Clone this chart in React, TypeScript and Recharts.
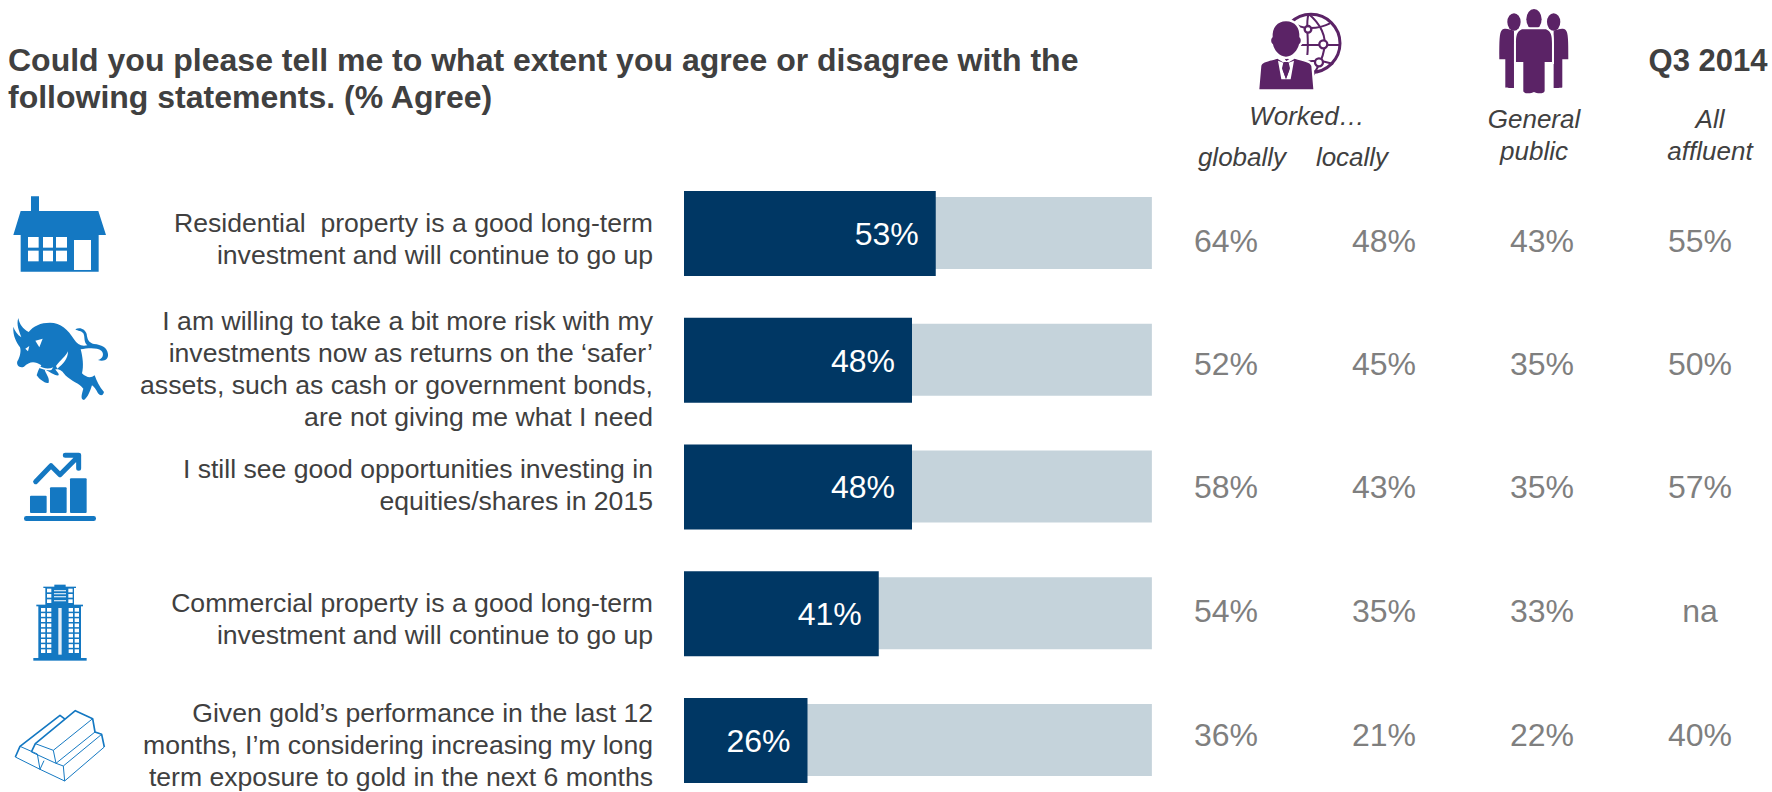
import { BarChart, Bar, XAxis, YAxis, LabelList } from "recharts";

const FONT = "'Liberation Sans', Arial, sans-serif";
const NAVY = "#003764";
const TRACK = "#c5d3db";
const TEXT = "#404040";
const GREY = "#7f7f7f";
const BLUE = "#1478c2";
const PURPLE = "#5b2366";

const statements = [
  ["Residential  property is a good long-term", "investment and will continue to go up"],
  [
    "I am willing to take a bit more risk with my",
    "investments now as returns on the ‘safer’",
    "assets, such as cash or government bonds,",
    "are not giving me what I need",
  ],
  ["I still see good opportunities investing in", "equities/shares in 2015"],
  ["Commercial property is a good long-term", "investment and will continue to go up"],
  [
    "Given gold’s performance in the last 12",
    "months, I’m considering increasing my long",
    "term exposure to gold in the next 6 months",
  ],
];
const agree = [53, 48, 48, 41, 26];
const track = [98.5, 98.5, 98.5, 98.5, 98.5];
const workedGlobally = ["64%", "52%", "58%", "54%", "36%"];
const workedLocally = ["48%", "45%", "43%", "35%", "21%"];
const generalPublic = ["43%", "35%", "35%", "33%", "22%"];
const allAffluent = ["55%", "50%", "57%", "na", "40%"];

const rows = agree.map((value, i) => ({ id: `row${i}`, agree: value, track: track[i] }));

// the text blocks don't sit exactly on the bar centres
const labelShift = [-1.5, -30, -9, -2, -18];
const columnShift = [18.5, 15, 11, 8, 5.5];
const columnX = [1226, 1384, 1542, 1700];

function StatementTick({ y, index }: any) {
  return (
    <text textAnchor="end" fontFamily={FONT} fontSize={26.6} fill={TEXT}>
      {statements[index].map((line, i) => (
        <tspan key={i} x={653} y={y + labelShift[index] + i * 32} xmlSpace="preserve">
          {line}
        </tspan>
      ))}
    </text>
  );
}

function ColumnsTick({ y, index }: any) {
  const cols = [workedGlobally, workedLocally, generalPublic, allAffluent];
  return (
    <g>
      {cols.map((col, c) => (
        <text
          key={c}
          x={columnX[c]}
          y={y + columnShift[index]}
          textAnchor="middle"
          fontFamily={FONT}
          fontSize={32}
          fill={GREY}
        >
          {col[index]}
        </text>
      ))}
    </g>
  );
}

function Italic({ x, y, children }: any) {
  return (
    <text x={x} y={y} textAnchor="middle" fontFamily={FONT} fontStyle="italic" fontSize={26} fill={TEXT}>
      {children}
    </text>
  );
}

function Header() {
  return (
    <g>
      <text fontFamily={FONT} fontWeight="bold" fontSize={32} fill={TEXT}>
        <tspan x={8} y={71}>
          Could you please tell me to what extent you agree or disagree with the
        </tspan>
        <tspan x={8} y={108}>
          following statements. (% Agree)
        </tspan>
      </text>
      <text x={1708} y={71} textAnchor="middle" fontFamily={FONT} fontWeight="bold" fontSize={31} fill={TEXT}>
        Q3 2014
      </text>
      <Italic x={1307} y={125}>Worked…</Italic>
      <Italic x={1242} y={166}>globally</Italic>
      <Italic x={1352} y={166}>locally</Italic>
      <Italic x={1534} y={128}>General</Italic>
      <Italic x={1534} y={160}>public</Italic>
      <Italic x={1710} y={128}>All</Italic>
      <Italic x={1710} y={160}>affluent</Italic>
    </g>
  );
}

// icon paths below are authored at 3x, hence the scale on each group
function HouseIcon() {
  const panes = [
    [84, 156, 32],
    [129, 156, 30],
    [168, 156, 33],
    [84, 197, 32],
    [129, 197, 30],
    [168, 197, 33],
  ];
  return (
    <g transform="translate(0 185) scale(0.3333)">
      <path
        d="M93 34H117V78H295L318 150H296V260H62V150H40L62 78H93Z"
        fill={BLUE}
      />
      {panes.map(([x, y, w], i) => (
        <rect key={i} x={x} y={y} width={w} height={32} fill="#fff" />
      ))}
      <rect x={222} y={165} width={51} height={90} fill="#fff" />
    </g>
  );
}

function BullIcon() {
  return (
    <g transform="translate(0 310) scale(0.3333)">
      <path
        fill={BLUE}
        d="M55 24C58 42 68 56 86 66C100 48 122 38 150 38C182 38 205 60 222 88C232 104 244 110 262 106C250 96 256 82 250 70C244 62 234 64 226 58C240 50 256 58 260 72C262 88 266 98 282 102C304 104 322 112 324 132C326 148 312 156 294 150C308 146 314 132 304 122C292 112 262 114 242 118C248 140 252 168 246 190C258 202 272 206 284 196C290 212 298 232 312 246C310 256 302 260 294 250C288 238 282 230 276 226C270 244 264 262 252 270C240 268 246 250 250 236C238 220 214 214 196 196C188 184 180 176 166 178C170 186 178 190 176 196C164 198 150 186 134 178C136 192 150 202 146 218C136 222 118 208 110 196C114 184 116 176 124 166C104 152 88 154 72 170C60 176 48 166 52 154C60 142 64 122 60 112C50 98 38 78 40 50C44 62 52 74 64 82C58 64 48 44 55 24Z"
      />
      <path d="M106 92L128 86L118 112Z" fill="#fff" />
      <path d="M76 116L88 108L84 124Z" fill="#fff" />
      <path d="M168 168C182 150 196 140 204 124C204 146 190 162 172 176Z" fill="#fff" />
      <path d="M118 168C130 176 146 178 160 172L154 180C140 182 128 178 118 174Z" fill="#fff" />
    </g>
  );
}

function GrowthIcon() {
  return (
    <g transform="translate(0 440) scale(0.3333)" fill={BLUE}>
      <rect x={90} y={167} width={50} height={52} rx={3} />
      <rect x={150} y={142} width={50} height={77} rx={3} />
      <rect x={210} y={115} width={50} height={104} rx={3} />
      <rect x={72} y={228} width={216} height={15} rx={7} />
      <path
        d="M107 125L153 77L180 104L236 48M196 46H236V85"
        fill="none"
        stroke={BLUE}
        strokeWidth={15}
        strokeLinecap="round"
        strokeLinejoin="round"
      />
    </g>
  );
}

function BuildingIcon() {
  const upper: number[][] = [];
  for (const x of [141, 205]) for (const y of [56, 72, 88]) upper.push([x, y]);
  const lower: number[][] = [];
  for (const x of [123, 141, 206, 224]) {
    for (let k = 0; k < 9; k++) lower.push([x, 114 + k * 15.5]);
  }
  return (
    <g transform="translate(0 570) scale(0.3333)" fill={BLUE}>
      <rect x={163} y={44} width={34} height={8} />
      <rect x={130} y={50} width={98} height={4} />
      <rect x={136} y={52} width={86} height={54} />
      <rect x={109} y={104} width={140} height={5} />
      <rect x={115} y={106} width={128} height={160} />
      <rect x={100} y={264} width={160} height={8} />
      {upper.map(([x, y], i) => (
        <rect key={i} x={x} y={y} width={13} height={11} fill="#fff" />
      ))}
      {[60, 69, 78, 90].map((y) => (
        <rect key={y} x={162} y={y} width={36} height={4} fill="#c9e0f2" />
      ))}
      {lower.map(([x, y], i) => (
        <rect key={i} x={x} y={y} width={13} height={11} fill="#fff" />
      ))}
      <rect x={175} y={114} width={10} height={140} fill="#e3eef7" />
    </g>
  );
}

function GoldIcon() {
  return (
    <g transform="translate(0 692) scale(0.3333)" fill="none" stroke={BLUE} strokeLinejoin="round">
      <path strokeWidth={5} d="M46 195L60 163L180 70L196 82M94 180L106 155L226 56L278 80L285 120L305 127L313 165" />
      <path
        strokeWidth={3}
        d="M46 195L120 232L194 267L313 165M60 163L112 186M106 155L160 175L278 80M160 175L168 214L285 120M94 180L168 214L190 222L305 127M190 222L194 267M112 186L120 232L132 206"
      />
    </g>
  );
}

function WorkerIcon() {
  return (
    <g transform="translate(1250 0) scale(0.3333)">
      <circle cx={183} cy={130} r={87} fill="none" stroke={PURPLE} strokeWidth={9} />
      <g fill="none" stroke={PURPLE} strokeWidth={6}>
        <path d="M176 42C165 70 178 110 172 165" />
        <path d="M176 42C210 70 232 110 222 150C218 175 205 200 190 225" />
        <path d="M130 68C150 85 195 92 240 70M110 135H270M130 200C165 180 210 178 250 192" />
      </g>
      <g fill="#fff" stroke={PURPLE} strokeWidth={7}>
        <circle cx={174} cy={88} r={10} />
        <circle cx={220} cy={133} r={12} />
        <circle cx={207} cy={187} r={12} />
      </g>
      {/* white halo goes behind the fill so it only cuts into the globe */}
      <path
        fill={PURPLE}
        stroke="#fff"
        strokeWidth={14}
        paintOrder="stroke"
        d="M108 64C135 64 150 84 148 112C154 116 154 128 147 133C143 150 128 170 108 170C88 170 72 150 69 133C62 128 62 116 68 112C66 84 82 64 108 64Z"
      />
      <path
        fill={PURPLE}
        stroke="#fff"
        strokeWidth={14}
        paintOrder="stroke"
        d="M82 176L108 192L134 176C160 184 180 186 184 198L190 268H28L34 198C36 186 58 184 82 176Z"
      />
      <path d="M84 182L100 188L96 205L108 238L120 205L116 188L132 182L122 238H94Z" fill="#fff" />
      <path d="M101 186H115L118 210L108 236L98 210Z" fill={PURPLE} />
    </g>
  );
}

function PeopleIcon() {
  const side = "M0 0C-12 -2 -26 -10 -36 -2C-44 6 -44 30 -44 86H-26V170C-26 172 -14 172 0 172Z";
  return (
    <g transform="translate(1250 0) scale(0.3333)" fill={PURPLE}>
      <ellipse cx={792} cy={66} rx={20} ry={26} />
      <ellipse cx={911} cy={66} rx={20} ry={26} />
      <path transform="translate(792 92)" d={side} />
      <path transform="translate(911 92) scale(-1 1)" d={side} />
      <ellipse cx={852} cy={58} rx={23} ry={31} />
      <path
        stroke="#fff"
        strokeWidth={12}
        paintOrder="stroke"
        d="M816 88H888C904 94 906 108 906 130V186H884V272C884 282 862 282 852 276C842 282 820 282 820 272V186H798V130C798 108 800 94 816 88Z"
      />
    </g>
  );
}

export default function App() {
  return (
    <div style={{ position: "absolute", left: 0, top: 0, width: 1772, height: 792, overflow: "hidden", background: "#fff" }}>
      {/* last band runs past the page bottom, so the chart is a little taller than the frame */}
      <BarChart
        width={1772}
        height={810}
        data={rows}
        layout="vertical"
        margin={{ top: 170, right: 0, bottom: 6.25, left: 0 }}
      >
        <XAxis type="number" domain={[0, 100]} hide />
        <YAxis
          yAxisId="agree"
          type="category"
          dataKey="id"
          width={684}
          interval={0}
          axisLine={false}
          tickLine={false}
          tick={<StatementTick />}
        />
        <YAxis
          yAxisId="track"
          orientation="right"
          type="category"
          dataKey="id"
          width={613}
          interval={0}
          axisLine={false}
          tickLine={false}
          tick={<ColumnsTick />}
        />
        <Bar yAxisId="track" dataKey="track" fill={TRACK} barSize={72} isAnimationActive={false} />
        <Bar yAxisId="agree" dataKey="agree" fill={NAVY} barSize={85} isAnimationActive={false}>
          <LabelList
            dataKey="agree"
            position="insideRight"
            offset={17}
            formatter={(v: any) => `${v}%`}
            fill="#fff"
            fontFamily={FONT}
            fontSize={32}
          />
        </Bar>
        <Header />
        <HouseIcon />
        <BullIcon />
        <GrowthIcon />
        <BuildingIcon />
        <GoldIcon />
        <WorkerIcon />
        <PeopleIcon />
      </BarChart>
    </div>
  );
}
